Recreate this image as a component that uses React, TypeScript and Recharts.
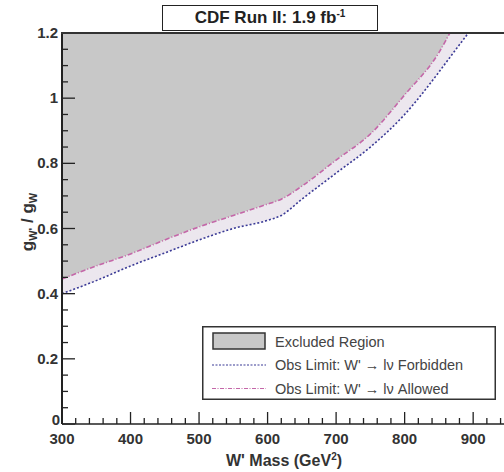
import React from "react";
import { ComposedChart, Area, XAxis, YAxis } from "recharts";

const masses = [300, 350, 400, 450, 500, 550, 600, 620, 650, 700, 750, 800, 850, 866, 893];
const allowedLimit: (number | null)[] = [0.445, 0.485, 0.522, 0.565, 0.605, 0.64, 0.675, 0.69, 0.73, 0.81, 0.89, 1.01, 1.14, 1.2, null];
const forbiddenLimit = [0.4, 0.44, 0.485, 0.525, 0.565, 0.6, 0.625, 0.64, 0.69, 0.77, 0.85, 0.95, 1.08, 1.125, 1.2];
const xMajorTicks = [300, 400, 500, 600, 700, 800, 900];
const yMajorTicks = [0, 0.2, 0.4, 0.6, 0.8, 1, 1.2];
const legendLabels = ["Excluded Region", "Obs Limit: W' \u2192 l\u03bd Forbidden", "Obs Limit: W' \u2192 l\u03bd Allowed"];
const yMax = 1.2;

const xTicks: number[] = [];
for (let v = 300; v <= 940; v += 20) xTicks.push(v);
const yTicks: number[] = [];
for (let i = 0; i <= 24; i++) yTicks.push(Math.round(i * 5) / 100);

const data = masses.map((m, i) => {
  const a = allowedLimit[i];
  const f = forbiddenLimit[i];
  return {
    mass: m,
    allowed: a,
    forbidden: f,
    excluded: a != null ? [a, yMax] : null,
    band: [f, a != null ? a : yMax],
  };
});

const FONT = "'Liberation Sans', Arial, sans-serif";

const XTick = (props: any) => {
  const { x, y, payload } = props;
  const v = payload.value;
  const major = xMajorTicks.includes(v);
  return (
    <g>
      <line x1={x} x2={x} y1={y} y2={y - (major ? 12 : 6)} stroke="#222" strokeWidth={1.3} />
      {major && (
        <text x={x} y={y + 20} textAnchor="middle" fontFamily={FONT} fontWeight="bold" fontSize={15} fill="#333">
          {v}
        </text>
      )}
    </g>
  );
};

const YTick = (props: any) => {
  const { x, y, payload } = props;
  const v = payload.value;
  const major = yMajorTicks.some((t) => Math.abs(t - v) < 1e-6);
  const isZero = Math.abs(v) < 1e-6;
  return (
    <g>
      <line x1={x} x2={x + (major ? 13 : 6)} y1={y} y2={y} stroke="#222" strokeWidth={1.3} />
      {major && (
        <text x={x - (isZero ? 2 : 4)} y={y} dy={isZero ? 1 : 5} textAnchor="end" fontFamily={FONT} fontWeight="bold" fontSize={15} fill="#333">
          {String(v)}
        </text>
      )}
    </g>
  );
};

export default function App() {
  return (
    <div style={{ position: "absolute", left: 0, top: 0, width: 504, height: 472, overflow: "hidden", background: "#fff" }}>
      <ComposedChart width={504} height={472} data={data} margin={{ top: 33, right: 0, bottom: 18, left: 12 }}>
        <XAxis
          dataKey="mass"
          type="number"
          domain={[300, 945]}
          ticks={xTicks}
          interval={0}
          tick={<XTick />}
          tickLine={false}
          tickSize={0}
          tickMargin={0}
          height={30}
          axisLine={{ stroke: "#222", strokeWidth: 1.5 }}
          allowDataOverflow
        />
        <YAxis
          type="number"
          domain={[0, 1.2]}
          ticks={yTicks}
          interval={0}
          tick={<YTick />}
          tickLine={false}
          tickSize={0}
          tickMargin={0}
          width={50}
          axisLine={{ stroke: "#222", strokeWidth: 2 }}
          allowDataOverflow
        />
        <Area
          dataKey="band"
          type="monotone"
          stroke="none"
          fill="#ece7ee"
          fillOpacity={1}
          isAnimationActive={false}
        />
        <Area
          dataKey="excluded"
          type="monotone"
          stroke="none"
          fill="#c8c8c8"
          fillOpacity={1}
          isAnimationActive={false}
        />
        <Area
          dataKey="forbidden"
          type="monotone"
          stroke="#3a3a96"
          strokeWidth={1.6}
          strokeDasharray="2 2"
          fill="none"
          dot={false}
          activeDot={false}
          isAnimationActive={false}
        />
        <Area
          dataKey="allowed"
          type="monotone"
          stroke="#c467a8"
          strokeWidth={1.6}
          strokeDasharray="5 2 1 2"
          fill="none"
          dot={false}
          activeDot={false}
          isAnimationActive={false}
        />
      </ComposedChart>

      {/* overlay: top frame, y-axis title, legend */}
      <svg style={{ position: "absolute", left: 0, top: 0 }} width={504} height={472} pointerEvents="none">
        <line x1={61} x2={504} y1={33} y2={33} stroke="#333" strokeWidth={2} />
        <text
          transform="translate(33,222) rotate(-90)"
          textAnchor="middle"
          fontFamily={FONT}
          fontWeight="bold"
          fontSize={17}
          fill="#333"
        >
          g<tspan fontSize={11} dy={4}>W'</tspan>
          <tspan dy={-4}> / g</tspan>
          <tspan fontSize={11} dy={4}>W</tspan>
        </text>

        <g>
          <rect x={202.75} y={326.75} width={292.5} height={72.5} fill="#fff" stroke="#333" strokeWidth={1.5} />
          <rect x={213} y={333} width={52} height={16} fill="#c8c8c8" stroke="#333" strokeWidth={1.5} />
          <line x1={212} x2={266} y1={365} y2={365} stroke="#3a3a96" strokeWidth={1.2} strokeDasharray="2 1.5" />
          <line x1={212} x2={266} y1={388.5} y2={388.5} stroke="#c467a8" strokeWidth={1.2} strokeDasharray="4 1.5 1 1.5" />
          {legendLabels.map((label, i) => (
            <text key={i} x={275} y={346.5 + i * 23.5} fontFamily={FONT} fontSize={14.5} fill="#444">
              {label}
            </text>
          ))}
        </g>
      </svg>

      {/* x-axis title */}
      <div
        style={{
          position: "absolute",
          left: 0,
          width: 504,
          top: 451,
          textAlign: "center",
          paddingLeft: 64,
          boxSizing: "border-box",
          fontFamily: FONT,
          fontWeight: "bold",
          fontSize: 16,
          color: "#333",
          whiteSpace: "nowrap",
        }}
      >
        W' Mass (GeV<sup style={{ fontSize: 10 }}>2</sup>)
      </div>

      {/* title box */}
      <div
        style={{
          position: "absolute",
          left: 162,
          top: 5,
          width: 216,
          height: 26,
          border: "1.5px solid #222",
          boxSizing: "border-box",
          background: "#fff",
          textAlign: "center",
          fontFamily: FONT,
          fontWeight: "bold",
          fontSize: 17,
          lineHeight: "23px",
          color: "#222",
          whiteSpace: "nowrap",
        }}
      >
        CDF Run II: 1.9 fb<sup style={{ fontSize: 10, verticalAlign: "6px", lineHeight: 0 }}>-1</sup>
      </div>
    </div>
  );
}
